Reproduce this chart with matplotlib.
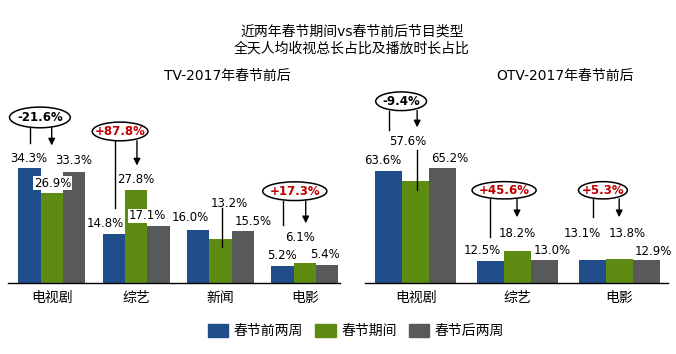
import numpy as np
import matplotlib
matplotlib.use('Agg')
import matplotlib.pyplot as plt
from matplotlib.patches import Ellipse, Patch

plt.rcParams['font.family'] = ['DejaVu Sans', 'Noto Sans CJK SC']

# TV data (share %)
tv_categories = ['电视剧', '综艺', '新闻', '电影']
tv_before = [34.3, 14.8, 16.0, 5.2]
tv_during = [26.9, 27.8, 13.2, 6.1]
tv_after = [33.3, 17.1, 15.5, 5.4]
tv_change = ['-21.6%', '+87.8%', '+17.3%']

# OTV data (share %)
otv_categories = ['电视剧', '综艺', '电影']
otv_before = [63.6, 12.5, 13.1]
otv_during = [57.6, 18.2, 13.8]
otv_after = [65.2, 13.0, 12.9]
otv_change = ['-9.4%', '+45.6%', '+5.3%']

series_names = ['春节前两周', '春节期间', '春节后两周']
colors = ['#1F4E8A', '#5E8C12', '#58595B']

fig = plt.figure(figsize=(6.76, 3.54), dpi=100)
ax1 = fig.add_axes([8 / 676, 71 / 354, 332 / 676, 223 / 354])
ax2 = fig.add_axes([365 / 676, 71 / 354, 303 / 676, 223 / 354])

# label offsets in pixels (dx, dy of text centre above bar top)
tv_offsets = [
    [(-1, 10), (-8, 10), (-8, 11.7), (-1, 10)],
    [(1, 10), (0, 11), (9, 35), (-5, 25)],
    [(0, 11.5), (-11, 10), (10, 10), (-2, 10)],
]
otv_offsets = [
    [(-6, 10.7), (-8, 10), (-10, 26.6)],
    [(-8, 39.5), (0, 17.6), (8, 25)],
    [(7, 10), (8, 10), (7, 9)],
]
tv_boxed = [(1, 0), (2, 1)]


def draw_panel(ax, cats, series, offsets, boxed, xlim, ymax):
    x = np.arange(len(cats))
    w = 0.265
    for s, vals in enumerate(series):
        xs = x + (s - 1) * w
        ax.bar(xs, vals, width=w, color=colors[s], zorder=1)
        for i, v in enumerate(vals):
            dx, dy = offsets[s][i]
            bbox = dict(fc='white', ec='none', pad=0.5) if (s, i) in boxed else None
            ax.annotate(f'{v:.1f}%', xy=(xs[i], v), xytext=(dx, dy),
                        textcoords='offset pixels', ha='center', va='center',
                        fontsize=8.5, color='black', bbox=bbox, zorder=3)
    ax.set_xlim(*xlim)
    ax.set_ylim(0, ymax)
    ax.set_xticks(x)
    ax.set_xticklabels(cats, fontsize=10)
    ax.tick_params(axis='x', length=0, pad=6)
    ax.set_yticks([])
    for sp in ['top', 'left', 'right']:
        ax.spines[sp].set_visible(False)
    ax.spines['bottom'].set_color('black')
    ax.spines['bottom'].set_linewidth(1)


def change_bubble(ax, text, cx, cy, w, h, color):
    e = Ellipse((cx, cy), w, h, fc='white', ec='black', lw=1.1, clip_on=False, zorder=4)
    ax.add_patch(e)
    ax.text(cx, cy, text, ha='center', va='center', fontsize=8.5,
            fontweight='bold', color=color, zorder=5)


def vline(ax, x, y0, y1):
    ax.plot([x, x], [y0, y1], color='black', lw=1, zorder=4, clip_on=False)


def arrow(ax, x, y0, y1):
    ax.annotate('', xy=(x, y1), xytext=(x, y0),
                arrowprops=dict(arrowstyle='-|>', color='black', lw=1,
                                mutation_scale=10, shrinkA=0, shrinkB=0),
                zorder=4)


draw_panel(ax1, tv_categories, [tv_before, tv_during, tv_after], tv_offsets,
           tv_boxed, (-0.518, 3.416), 66.8)
draw_panel(ax2, otv_categories, [otv_before, otv_during, otv_after], otv_offsets,
           [], (-0.5, 2.48), 126.5)

# TV bubbles
red = '#C00000'
change_bubble(ax1, tv_change[0], -0.14, 49.6, 0.72, 6.2, 'black')
vline(ax1, -0.257, 46.5, 41.8)
arrow(ax1, 0.0, 46.5, 41.2)

change_bubble(ax1, tv_change[1], 0.81, 45.4, 0.66, 5.6, red)
vline(ax1, 0.75, 42.6, 22.4)
arrow(ax1, 1.01, 42.6, 35.2)

change_bubble(ax1, tv_change[2], 2.88, 27.5, 0.76, 5.6, red)
vline(ax1, 2.74, 24.7, 17.3)
arrow(ax1, 3.01, 24.7, 17.9)

# leader line for 新闻 during label
vline(ax1, 2.02, 22.4, 10.7)

# OTV bubbles
change_bubble(ax2, otv_change[0], -0.145, 103.1, 0.5, 10.6, 'black')
vline(ax2, -0.26, 97.8, 86.6)
arrow(ax2, 0.013, 97.8, 88.3)
vline(ax2, 0.013, 75.3, 52.6)

change_bubble(ax2, otv_change[1], 0.868, 52.6, 0.63, 9.8, red)
vline(ax2, 0.73, 47.7, 25.9)
arrow(ax2, 0.995, 47.7, 37.3)

change_bubble(ax2, otv_change[2], 1.84, 52.6, 0.48, 9.8, red)
vline(ax2, 1.74, 47.7, 37.3)
arrow(ax2, 2.0, 47.7, 37.3)

# titles
fig.text(352 / 676, 1 - 40 / 354, '近两年春节期间vs春节前后节目类型\n全天人均收视总长占比及播放时长占比',
         ha='center', va='center', fontsize=10, linespacing=1.25)
fig.text(227 / 676, 1 - 76 / 354, 'TV-2017年春节前后', ha='center', va='center', fontsize=10)
fig.text(565 / 676, 1 - 76 / 354, 'OTV-2017年春节前后', ha='center', va='center', fontsize=10)

handles = [Patch(color=c, label=n) for c, n in zip(colors, series_names)]
fig.legend(handles=handles, loc='center', bbox_to_anchor=(356 / 676, 1 - 331 / 354),
           ncol=3, frameon=False, fontsize=10, handlelength=1.45, handleheight=1.1,
           handletextpad=0.4, columnspacing=0.9)

fig.savefig('out.png', dpi=100)
